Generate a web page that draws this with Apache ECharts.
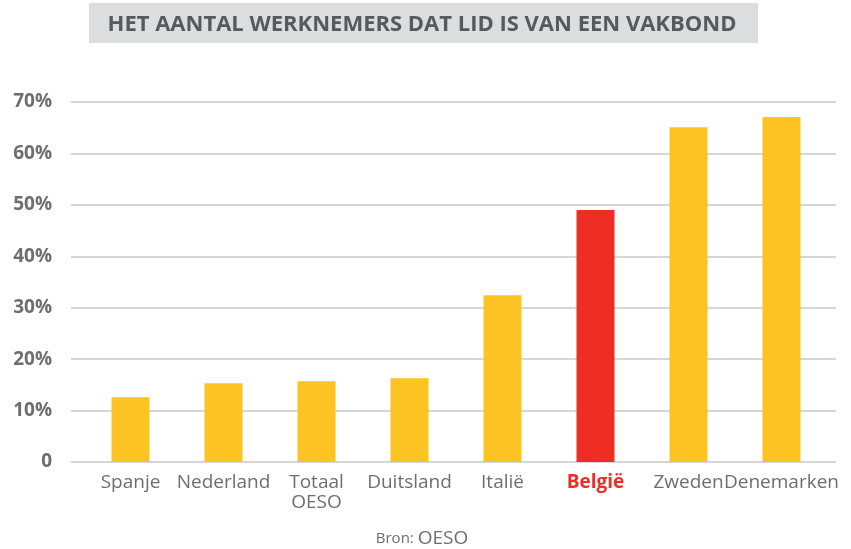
<!DOCTYPE html>
<html>
<head>
<meta charset="utf-8">
<script src="https://cdn.jsdelivr.net/npm/echarts@6/dist/echarts.min.js"></script>
<style>
  html, body { margin: 0; padding: 0; background: #ffffff; }
  #chart { width: 851px; height: 549px; }
</style>
</head>
<body>
<div id="chart"></div>
<script>
// Union membership share per country (percent)
const countries = ['Spanje', 'Nederland', 'Totaal\nOESO', 'Duitsland', 'Italië', 'België', 'Zweden', 'Denemarken'];
const membership = [12.6, 15.3, 15.7, 16.3, 32.4, 49.0, 65.1, 67.1];
const highlighted = 'België';
const yTicks = [0, 10, 20, 30, 40, 50, 60, 70];

const YELLOW = '#fdc323';
const RED = '#ee2e24';
const GREY_TEXT = '#6d6e71';
const FONT = 'Open Sans';

const chart = echarts.init(document.getElementById('chart'));

const barData = countries.map((c, i) => ({
  value: membership[i],
  itemStyle: { color: c === highlighted ? RED : YELLOW }
}));

chart.setOption({
  animation: false,
  textStyle: { fontFamily: FONT },
  graphic: [
    { type: 'rect', shape: { x: 89, y: 3, width: 669, height: 40 }, style: { fill: '#dcdddf' }, silent: true },
    {
      type: 'text', x: 422, y: 24.5,
      style: {
        text: 'HET AANTAL WERKNEMERS DAT LID IS VAN EEN VAKBOND',
        fill: '#58595b', font: 'bold 22px "Open Sans"', align: 'center', verticalAlign: 'middle'
      }
    },
    {
      type: 'text', x: 422, y: 539,
      style: {
        text: '{a|Bron: }{b|OESO}',
        align: 'center', verticalAlign: 'middle',
        rich: {
          a: { fill: GREY_TEXT, fontSize: 15, fontFamily: FONT },
          b: { fill: GREY_TEXT, fontSize: 19, fontFamily: FONT }
        }
      }
    }
  ],
  grid: [
    { left: 71, right: 15, top: 102, bottom: 87 },
    { left: 84, right: 23, top: 102, bottom: 87 }
  ],
  xAxis: [
    { gridIndex: 0, type: 'value', show: false, min: 0, max: 1 },
    {
      gridIndex: 1, type: 'category', data: countries,
      axisLine: { show: false }, axisTick: { show: false },
      axisLabel: {
        interval: 0, margin: 11, color: GREY_TEXT, fontSize: 19, lineHeight: 20,
        fontFamily: FONT,
        formatter: v => v === highlighted ? '{hl|' + v + '}' : v,
        rich: { hl: { color: RED, fontWeight: 'bold', fontSize: 19, lineHeight: 20, fontFamily: FONT } }
      }
    }
  ],
  yAxis: [
    {
      gridIndex: 0, type: 'value', min: 0, max: 70, interval: 10,
      axisLine: { show: false }, axisTick: { show: false },
      splitLine: { lineStyle: { color: '#d6d6d6', width: 2 } },
      axisLabel: {
        margin: 19, color: GREY_TEXT, fontSize: 19, fontWeight: 'bold', fontFamily: FONT,
        formatter: v => yTicks.includes(v) ? (v === 0 ? '0' : v + '%') : ''
      }
    },
    {
      gridIndex: 1, type: 'value', min: 0, max: 70, interval: 10, show: false,
      splitLine: { show: false }
    }
  ],
  series: [{
    type: 'bar', xAxisIndex: 1, yAxisIndex: 1,
    data: barData, barWidth: 38
  }]
});
</script>
</body>
</html>
